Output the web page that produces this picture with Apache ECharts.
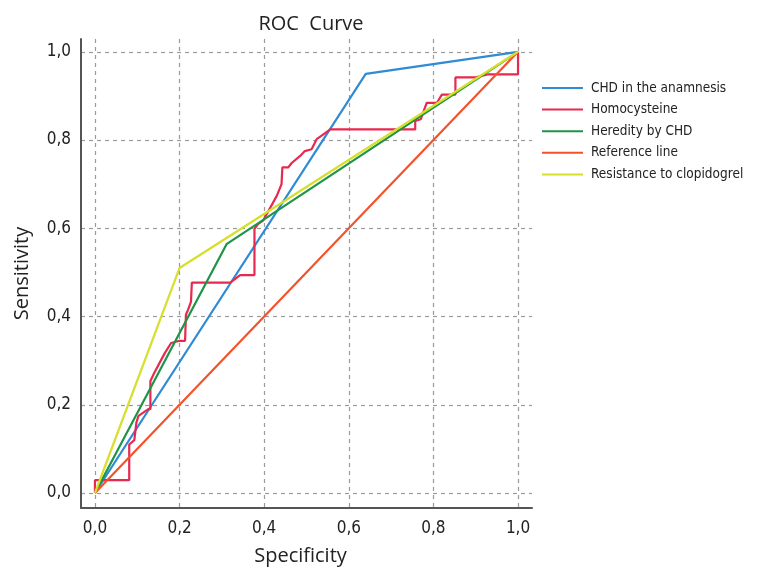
<!DOCTYPE html>
<html>
<head>
<meta charset="utf-8">
<script src="https://cdn.jsdelivr.net/npm/echarts@6/dist/echarts.min.js"></script>
<style>
  html, body { margin: 0; padding: 0; background: #fff; }
  #roc { width: 759px; height: 571px; }
</style>
</head>
<body>
<div id="roc"></div>
<script>
// tick positions on both axes
const tickVals = [0, 0.2, 0.4, 0.6, 0.8, 1.0]

// curves as [1 - specificity, sensitivity] pairs
const chdAnamnesis = [[0, 0], [0.64, 0.95], [1, 1]]
const homocysteine = [
  [0, 0], [0, 0.029], [0.081, 0.029], [0.081, 0.11], [0.093, 0.12],
  [0.098, 0.16], [0.103, 0.175], [0.126, 0.19], [0.131, 0.19], [0.131, 0.254],
  [0.14, 0.272], [0.165, 0.317], [0.18, 0.34], [0.2, 0.345], [0.213, 0.345],
  [0.215, 0.404], [0.22, 0.415], [0.227, 0.434], [0.229, 0.477], [0.32, 0.477],
  [0.343, 0.494], [0.377, 0.494], [0.377, 0.599], [0.386, 0.61], [0.398, 0.618],
  [0.43, 0.674], [0.441, 0.7], [0.443, 0.738], [0.457, 0.738], [0.465, 0.748],
  [0.485, 0.764], [0.496, 0.775], [0.512, 0.779], [0.524, 0.802], [0.54, 0.813],
  [0.556, 0.824], [0.757, 0.824], [0.757, 0.843], [0.77, 0.847], [0.784, 0.884],
  [0.808, 0.884], [0.82, 0.903], [0.852, 0.903], [0.852, 0.942], [0.9, 0.942],
  [0.93, 0.949], [1, 0.949], [1, 1]
]
const heredityChd = [[0, 0], [0.311, 0.564], [1, 1]]
const referenceLine = [[0, 0], [1, 1]]
const clopidogrel = [[0, 0], [0.2, 0.51], [1, 1]]

const seriesNames = ['CHD in the anamnesis', 'Homocysteine', 'Heredity by CHD', 'Reference line', 'Resistance to clopidogrel']
const seriesColors = ['#2f8bd4', '#e8294f', '#1e9447', '#f4522a', '#d6df2b']
const seriesData = [chdAnamnesis, homocysteine, heredityChd, referenceLine, clopidogrel]

const condensed = "'DejaVu Sans Condensed', Roboto, sans-serif"

const chart = echarts.init(document.getElementById('roc'))

const fmt = function (v) {
  return v.toFixed(1).replace('.', ',')
}

const gridLine = {
  show: true,
  lineStyle: { color: '#9a9a9a', type: [4, 4], width: 1.2 },
}

const option = {
  animation: false,
  textStyle: { fontFamily: 'Open Sans' },
  title: {
    text: 'ROC  Curve',
    left: 306,
    top: 9,
    textAlign: 'center',
    textStyle: { fontSize: 20, fontWeight: 'normal', color: '#222', fontFamily: 'Open Sans' },
  },
  legend: {
    orient: 'vertical',
    left: 537,
    top: 76,
    icon: 'rect',
    itemWidth: 41,
    itemHeight: 2,
    itemGap: 7.6,
    textStyle: { fontSize: 13.5, color: '#222', fontFamily: condensed, padding: [0, 0, 0, 3] },
    data: seriesNames,
  },
  grid: {
    left: 81,
    right: 227,
    top: 39,
    bottom: 60,
  },
  xAxis: {
    type: 'value',
    min: -0.033,
    max: 1.033,
    name: 'Specificity',
    nameLocation: 'middle',
    nameGap: 38,
    nameTextStyle: { fontSize: 20, color: '#222', padding: [0, 12, 0, 0] },
    axisLine: { show: true, onZero: false, lineStyle: { color: '#555', width: 2 } },
    axisTick: { show: false, customValues: tickVals },
    axisLabel: { customValues: tickVals, formatter: fmt, fontSize: 17, color: '#222', margin: 12, fontFamily: condensed },
    splitLine: gridLine,
  },
  yAxis: {
    type: 'value',
    min: -0.034,
    max: 1.029,
    name: 'Sensitivity',
    nameLocation: 'middle',
    nameGap: 49,
    nameTextStyle: { fontSize: 20, color: '#222' },
    axisLine: { show: true, onZero: false, lineStyle: { color: '#555', width: 2 } },
    axisTick: { show: false, customValues: tickVals },
    axisLabel: { customValues: tickVals, formatter: fmt, fontSize: 17, color: '#222', margin: 10, fontFamily: condensed },
    splitLine: gridLine,
  },
  series: seriesData.map(function (d, i) {
    return {
      name: seriesNames[i],
      type: 'line',
      data: d,
      symbol: 'none',
      color: seriesColors[i],
      lineStyle: { width: 2.2, color: seriesColors[i] },
    }
  }),
}

chart.setOption(option)
</script>
</body>
</html>
